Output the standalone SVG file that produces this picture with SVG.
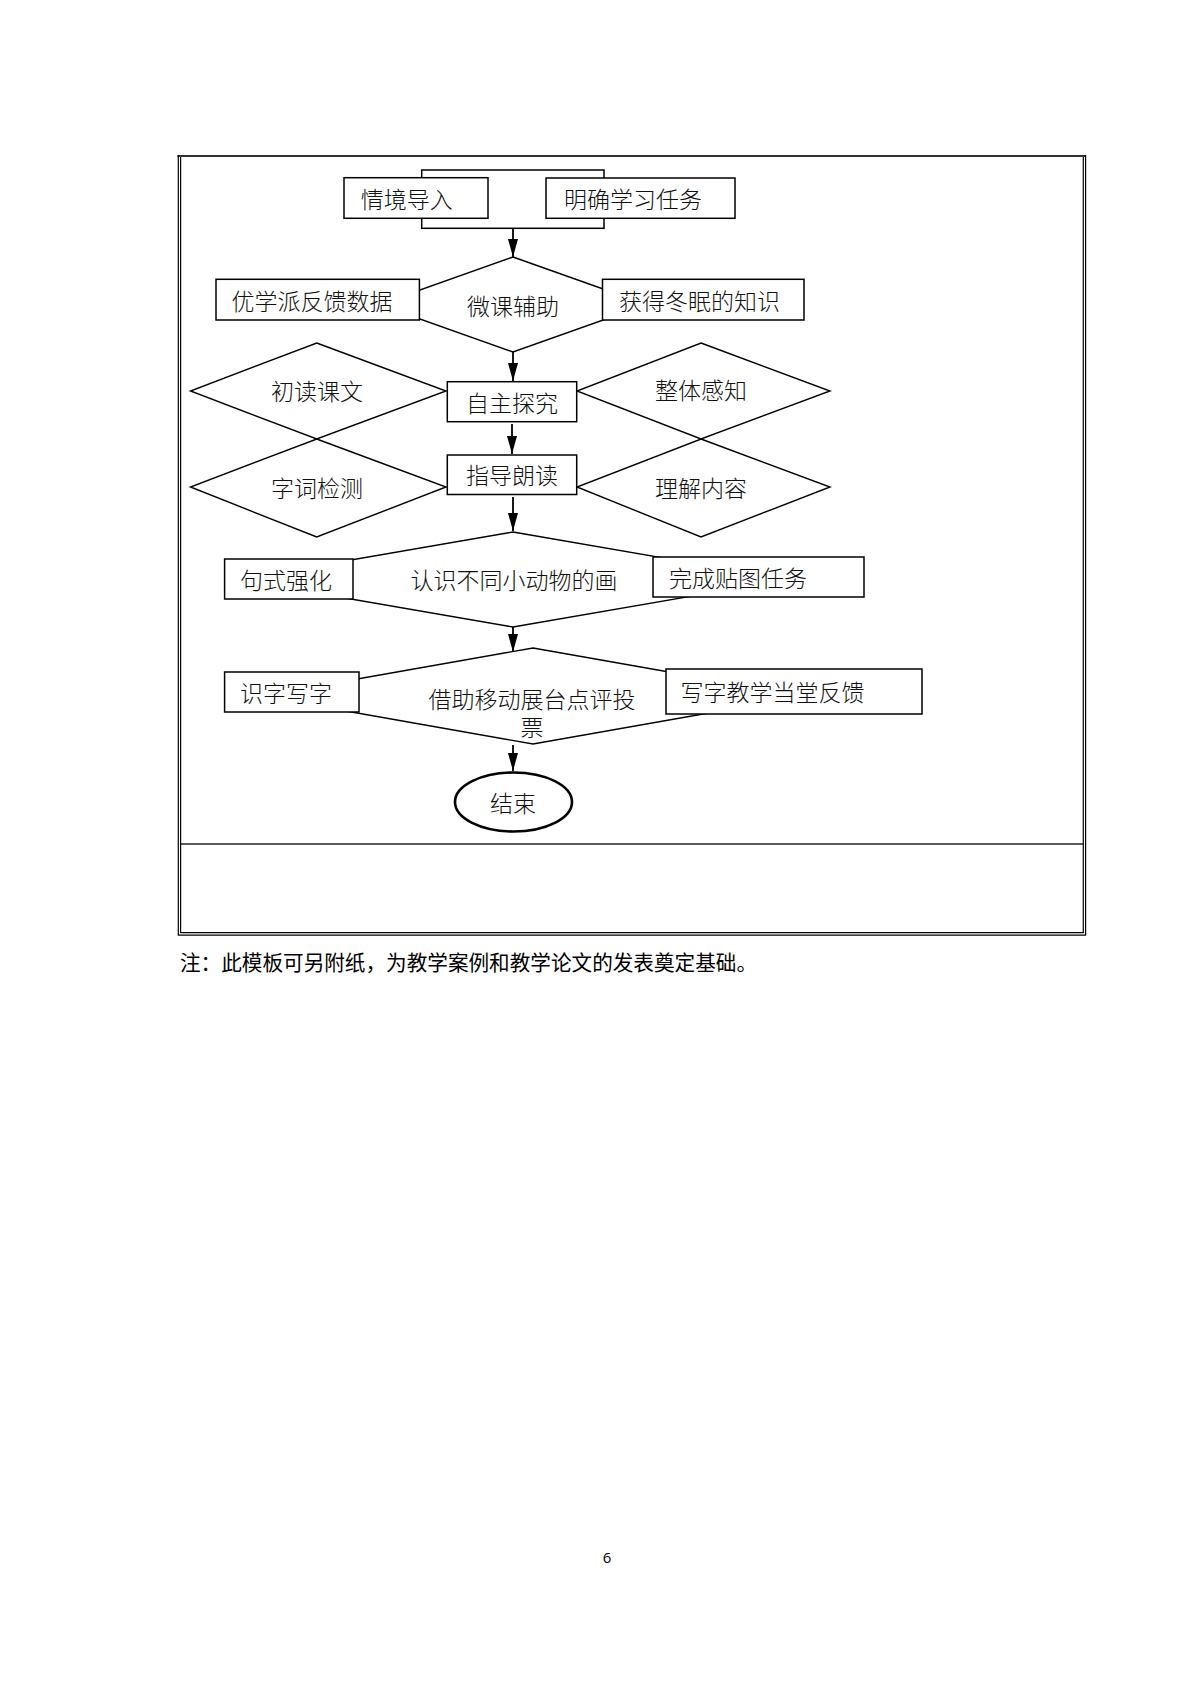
<svg xmlns="http://www.w3.org/2000/svg" width="1191" height="1684" viewBox="0 0 1191 1684">
<style>
.bg{fill:#ffffff}
.frame{stroke:#000;stroke-width:1.2;fill:none}
.shape{fill:#fff;stroke:#000;stroke-width:1.5}
.dia{fill:none;stroke:#000;stroke-width:1.4}
.t{font-family:"Noto Sans CJK SC","Noto Sans CJK JP",sans-serif;font-size:23px;font-weight:300;fill:#111;dominant-baseline:central}
.m{text-anchor:middle}
.conn{stroke:#000;stroke-width:1.8;fill:none;marker-end:url(#ah)}
</style>
<defs>
<marker id="ah" viewBox="0 0 18 10" refX="18" refY="5" markerWidth="18" markerHeight="10" markerUnits="userSpaceOnUse" orient="auto">
<path d="M0,0 L18,5 L0,10 z" fill="#000"/>
</marker>
</defs>
<rect class="bg" x="0" y="0" width="1191" height="1684"/>
<g id="frame">
<line x1="177.5" y1="156" x2="1086" y2="156" stroke="#333" stroke-width="2.2"/>
<line class="frame" x1="178.3" y1="155" x2="178.3" y2="935.5"/>
<line class="frame" x1="180.6" y1="157" x2="180.6" y2="933"/>
<line class="frame" x1="1083.3" y1="157" x2="1083.3" y2="933"/>
<line class="frame" x1="1085.6" y1="155" x2="1085.6" y2="935.5"/>
<line class="frame" x1="180.6" y1="932.7" x2="1083.3" y2="932.7"/>
<line class="frame" x1="178.3" y1="935.2" x2="1085.6" y2="935.2"/>
<line x1="180.6" y1="844" x2="1083.3" y2="844" stroke="#222" stroke-width="1.6"/>
</g>
<g id="node-bracket"><rect class="shape" x="421.7" y="170" width="182.3" height="58.3"/></g>
<g id="node-qingjing"><rect class="shape" x="344" y="177.7" width="144" height="40.6"/><text class="t" x="360.7" y="198">情境导入</text></g>
<g id="node-mingque"><rect class="shape" x="546" y="178" width="189" height="40.3"/><text class="t" x="564" y="198">明确学习任务</text></g>
<g id="node-weike"><polygon class="dia" points="513,257 647,304.5 513,352 379,304.5"/><text class="t m" x="513" y="305">微课辅助</text></g>
<g id="node-youxuepai"><rect class="shape" x="216" y="279.3" width="203.4" height="40.7"/><text class="t" x="231.6" y="300">优学派反馈数据</text></g>
<g id="node-huode"><rect class="shape" x="602.5" y="279.3" width="201.5" height="40.7"/><text class="t" x="619" y="300">获得冬眠的知识</text></g>
<g id="node-chudu"><polygon class="dia" points="316.7,343 446,391 316.7,439 190.5,391"/><text class="t m" x="317" y="390">初读课文</text></g>
<g id="node-zhengti"><polygon class="dia" points="701,343 830,391 701,439 577,391"/><text class="t m" x="701" y="389">整体感知</text></g>
<g id="node-zizhu"><rect class="shape" x="447.3" y="381.7" width="129.4" height="40"/><text class="t m" x="512" y="401.7">自主探究</text></g>
<g id="node-zici"><polygon class="dia" points="316.7,439 446,487 316.7,537 190.5,487"/><text class="t m" x="317" y="487">字词检测</text></g>
<g id="node-lijie"><polygon class="dia" points="701,439 830,487 701,537 577,487"/><text class="t m" x="701" y="487">理解内容</text></g>
<g id="node-zhidao"><rect class="shape" x="447.3" y="455" width="129.4" height="39.5"/><text class="t m" x="512" y="474">指导朗读</text></g>
<g id="node-renshi"><polygon class="dia" points="513,532 788,579.5 513,627 238,579.5"/><text class="t m" x="514" y="579">认识不同小动物的画</text></g>
<g id="node-jushi"><rect class="shape" x="224.6" y="559" width="128.4" height="40"/><text class="t" x="240" y="579">句式强化</text></g>
<g id="node-wancheng"><rect class="shape" x="653" y="557" width="211" height="40"/><text class="t" x="669" y="577">完成贴图任务</text></g>
<g id="node-jiezhu"><polygon class="dia" points="533,648 805,696 533,744 261,696"/><text class="t m" x="532" y="698"><tspan x="532" y="698">借助移动展台点评投</tspan><tspan x="532" y="726">票</tspan></text></g>
<g id="node-shizi"><rect class="shape" x="224.6" y="672" width="134.4" height="40"/><text class="t" x="240" y="692">识字写字</text></g>
<g id="node-xiezi"><rect class="shape" x="666" y="669" width="256" height="45"/><text class="t" x="680.6" y="691">写字教学当堂反馈</text></g>
<g id="node-end"><ellipse cx="513.5" cy="802" rx="58.5" ry="29.5" fill="#fff" stroke="#000" stroke-width="2.6"/><text class="t m" x="513" y="802">结束</text></g>
<g id="connectors">
<line class="conn" x1="513" y1="229" x2="513" y2="257"/>
<line class="conn" x1="513" y1="352" x2="513" y2="381"/>
<line class="conn" x1="512" y1="424" x2="512" y2="454"/>
<line class="conn" x1="513" y1="497" x2="513" y2="531"/>
<line class="conn" x1="513" y1="627" x2="513" y2="652"/>
<line class="conn" x1="513" y1="745" x2="513" y2="771"/>
</g>
<text id="note" x="180" y="961" font-family="'Noto Sans CJK SC',sans-serif" font-size="21" fill="#000" dominant-baseline="central" textLength="577" lengthAdjust="spacingAndGlyphs">注：此模板可另附纸，为教学案例和教学论文的发表奠定基础。</text>
<text id="page" x="607" y="1557" font-family="'Open Sans',sans-serif" font-size="15" fill="#000" text-anchor="middle" dominant-baseline="central">6</text>
</svg>
